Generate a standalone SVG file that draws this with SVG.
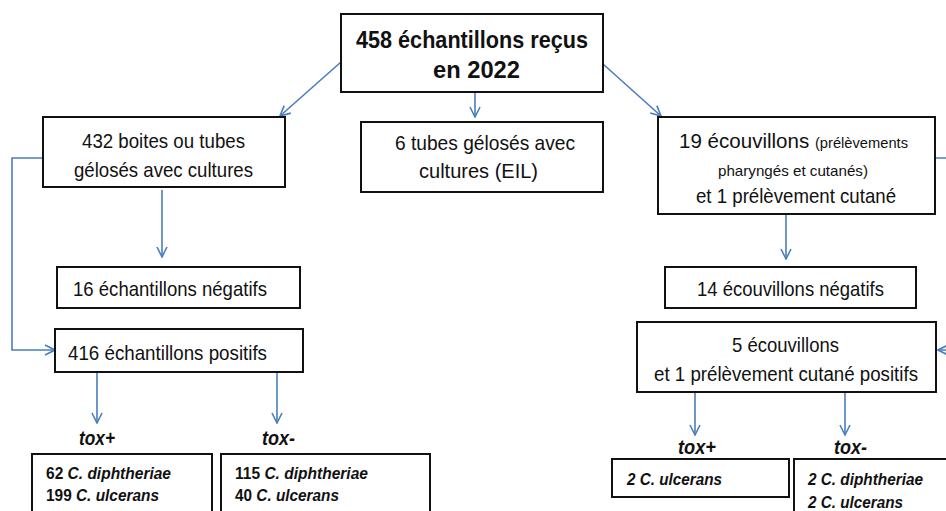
<svg xmlns="http://www.w3.org/2000/svg" width="946" height="511" viewBox="0 0 946 511">
<style>
.box{fill:#fff;stroke:#111;stroke-width:2}
.t{font-family:"Liberation Sans",Arial,sans-serif;font-size:21px;fill:#111}
.s{font-size:15px}
.b{font-weight:bold}
.ti{font-family:"Liberation Sans",Arial,sans-serif;font-size:17px;font-weight:bold;fill:#111}
.i{font-style:italic}
.tox{font-family:"Liberation Sans",Arial,sans-serif;font-size:20px;font-weight:bold;font-style:italic;fill:#111}
.c{fill:none;stroke:#4a7ebb;stroke-width:1.6;marker-end:url(#a)}
</style>
<defs>
<marker id="a" viewBox="0 0 12 12" refX="11" refY="6" markerWidth="12" markerHeight="12" markerUnits="userSpaceOnUse" orient="auto">
<path d="M1,1 L11,6 L1,11" fill="none" stroke="#4a7ebb" stroke-width="1.6"/>
</marker>
</defs>
<g id="connectors">
<path class="c" d="M341,62 L280,116"/>
<path class="c" d="M475,92 L475,117"/>
<path class="c" d="M603,64 L661,116"/>
<path class="c" d="M162,190 L162,257"/>
<path class="c" d="M42,158 H12 V350 H55"/>
<path class="c" d="M97,372 L97,423"/>
<path class="c" d="M277,372 L277,423"/>
<path class="c" d="M786,214 L786,259"/>
<path class="c" d="M935,158 H952 V350 H938"/>
<path class="c" d="M695,392 L695,435"/>
<path class="c" d="M845,392 L845,435"/>
</g>
<g id="n_root">
<rect class="box" x="341" y="14" width="262" height="78"/>
<text class="t b" x="356" y="48" style="font-size:24px" textLength="232" lengthAdjust="spacingAndGlyphs">458 échantillons reçus</text>
<text class="t b" x="433" y="78" style="font-size:24px" textLength="87" lengthAdjust="spacingAndGlyphs">en 2022</text>
</g>
<g id="n_boites">
<rect class="box" x="43" y="117" width="242" height="70"/>
<text class="t" x="82" y="148" textLength="163" lengthAdjust="spacingAndGlyphs">432 boites ou tubes</text>
<text class="t" x="74" y="177" textLength="179" lengthAdjust="spacingAndGlyphs">gélosés avec cultures</text>
</g>
<g id="n_eil">
<rect class="box" x="361" y="122" width="242" height="70"/>
<text class="t" x="395" y="150" textLength="180" lengthAdjust="spacingAndGlyphs">6 tubes gélosés avec</text>
<text class="t" x="419" y="178" textLength="119" lengthAdjust="spacingAndGlyphs">cultures (EIL)</text>
</g>
<g id="n_ecouv">
<rect class="box" x="658" y="117" width="277" height="97"/>
<text class="t" x="679" y="148" textLength="229" lengthAdjust="spacingAndGlyphs">19 écouvillons <tspan class="s">(prélèvements</tspan></text>
<text class="t s" x="718" y="176" textLength="150" lengthAdjust="spacingAndGlyphs">pharyngés et cutanés)</text>
<text class="t" x="696" y="203" textLength="200" lengthAdjust="spacingAndGlyphs">et 1 prélèvement cutané</text>
</g>
<g id="n_neg16">
<rect class="box" x="57" y="267" width="243" height="41"/>
<text class="t" x="73" y="296" textLength="194" lengthAdjust="spacingAndGlyphs">16 échantillons négatifs</text>
</g>
<g id="n_pos416">
<rect class="box" x="55" y="329" width="248" height="43"/>
<text class="t" x="68" y="360" textLength="199" lengthAdjust="spacingAndGlyphs">416 échantillons positifs</text>
</g>
<g id="n_neg14">
<rect class="box" x="665" y="267" width="251" height="41"/>
<text class="t" x="697" y="296" textLength="187" lengthAdjust="spacingAndGlyphs">14 écouvillons négatifs</text>
</g>
<g id="n_pos5">
<rect class="box" x="637" y="322" width="299" height="70"/>
<text class="t" x="732" y="352" textLength="107" lengthAdjust="spacingAndGlyphs">5 écouvillons</text>
<text class="t" x="654" y="381" style="font-size:19.5px" textLength="264" lengthAdjust="spacingAndGlyphs">et 1 prélèvement cutané positifs</text>
</g>
<g id="l_toxp1"><text class="tox" x="79" y="445" textLength="36" lengthAdjust="spacingAndGlyphs">tox+</text></g>
<g id="l_toxm1"><text class="tox" x="262" y="445" textLength="33" lengthAdjust="spacingAndGlyphs">tox-</text></g>
<g id="l_toxp2"><text class="tox" x="678" y="454" textLength="38" lengthAdjust="spacingAndGlyphs">tox+</text></g>
<g id="l_toxm2"><text class="tox" x="834" y="454" textLength="33" lengthAdjust="spacingAndGlyphs">tox-</text></g>
<g id="n_res1">
<rect class="box" x="32" y="454" width="180" height="70"/>
<text class="ti" x="46" y="479" textLength="125" lengthAdjust="spacingAndGlyphs">62 <tspan class="i">C. diphtheriae</tspan></text>
<text class="ti" x="46" y="501" textLength="113" lengthAdjust="spacingAndGlyphs">199 <tspan class="i">C. ulcerans</tspan></text>
</g>
<g id="n_res2">
<rect class="box" x="221" y="454" width="209" height="70"/>
<text class="ti" x="235" y="479" textLength="133" lengthAdjust="spacingAndGlyphs">115 <tspan class="i">C. diphtheriae</tspan></text>
<text class="ti" x="235" y="501" textLength="104" lengthAdjust="spacingAndGlyphs">40 <tspan class="i">C. ulcerans</tspan></text>
</g>
<g id="n_res3">
<rect class="box" x="612" y="459" width="177" height="38"/>
<text class="ti i" x="627" y="485" textLength="95" lengthAdjust="spacingAndGlyphs">2 C. ulcerans</text>
</g>
<g id="n_res4">
<rect class="box" x="794" y="459" width="170" height="70"/>
<text class="ti i" x="808" y="485" textLength="115" lengthAdjust="spacingAndGlyphs">2 C. diphtheriae</text>
<text class="ti i" x="808" y="508" textLength="95" lengthAdjust="spacingAndGlyphs">2 C. ulcerans</text>
</g>
</svg>
